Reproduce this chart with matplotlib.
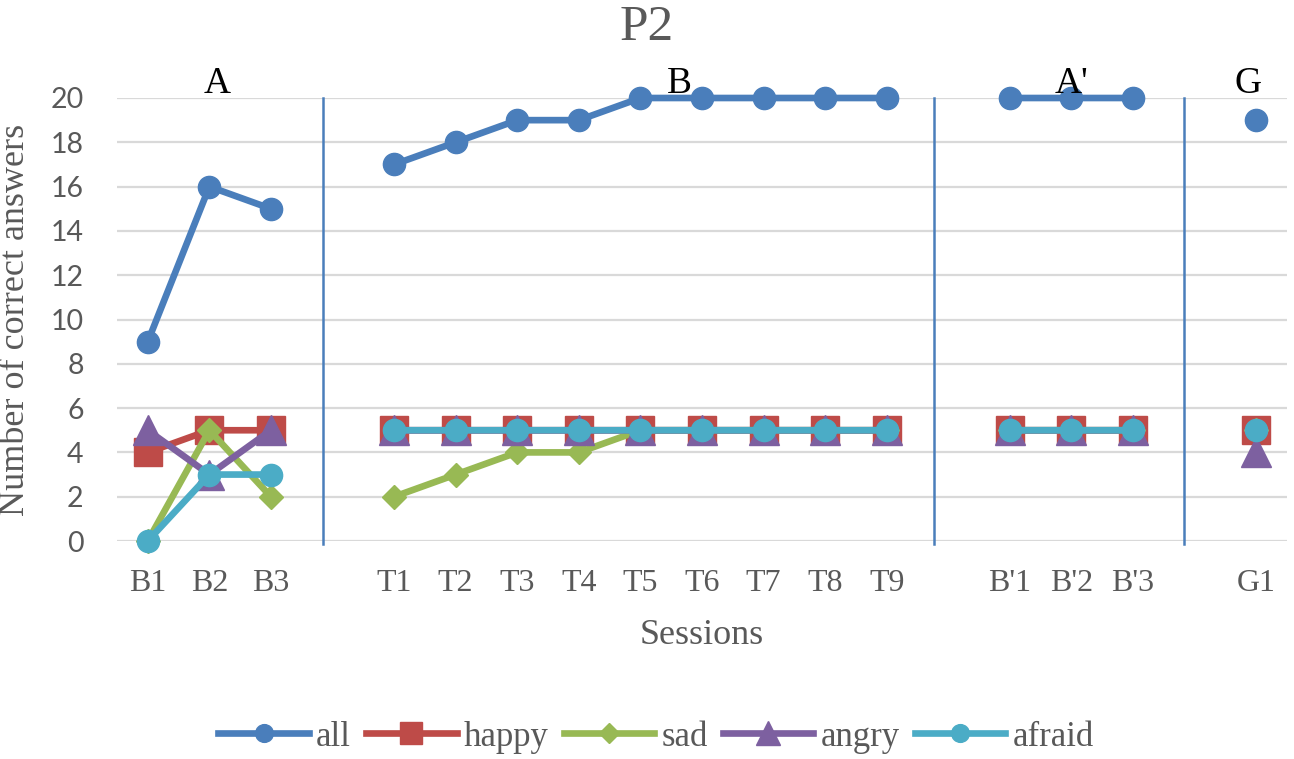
import numpy as np
import matplotlib
matplotlib.use("Agg")
import matplotlib.pyplot as plt

nan = np.nan
sessions = ["B1", "B2", "B3", "", "T1", "T2", "T3", "T4", "T5", "T6", "T7", "T8", "T9",
            "", "B'1", "B'2", "B'3", "", "G1"]
all_vals = [9, 16, 15, nan, 17, 18, 19, 19, 20, 20, 20, 20, 20, nan, 20, 20, 20, nan, 19]
happy = [4, 5, 5, nan, 5, 5, 5, 5, 5, 5, 5, 5, 5, nan, 5, 5, 5, nan, 5]
sad = [0, 5, 2, nan, 2, 3, 4, 4, 5, 5, 5, 5, 5, nan, 5, 5, 5, nan, 5]
angry = [5, 3, 5, nan, 5, 5, 5, 5, 5, 5, 5, 5, 5, nan, 5, 5, 5, nan, 4]
afraid = [0, 3, 3, nan, 5, 5, 5, 5, 5, 5, 5, 5, 5, nan, 5, 5, 5, nan, 5]
phase_labels = ["A", "B", "A'", "G"]
phase_label_x = [1.13, 8.64, 15.0, 17.87]
separators = [2.84, 12.76, 16.82]

serif = "Liberation Serif"
gray = "#595959"

fig = plt.figure(figsize=(12.94, 7.59), dpi=100)
ax = fig.add_axes([117/1294, 1-541/759, (1287-117)/1294, (541-98)/759])
x = np.arange(len(sessions))

ax.set_xlim(-0.5, len(sessions) - 0.5)
ax.set_ylim(0, 20)
ax.set_yticks(range(0, 21, 2))
ax.yaxis.grid(True, color="#D9D9D9", lw=1.6)
ax.set_axisbelow(True)
for s in ax.spines.values():
    s.set_visible(False)
ax.tick_params(length=0)
ax.set_xticks(x)
ax.set_xticklabels(sessions, fontfamily=serif, fontsize=23, color=gray)
for lab in ax.get_yticklabels():
    lab.set_fontfamily("Lato")
    lab.set_fontsize(20.5)
    lab.set_color(gray)
ax.tick_params(axis="x", pad=20)
ax.tick_params(axis="y", pad=24)

series = [
    ("all", all_vals, "#4A7EBB", "o", 16),
    ("happy", happy, "#BE4B48", "s", 20.5),
    ("sad", sad, "#98B954", "D", 12.5),
    ("angry", angry, "#7D60A0", "^", 21),
    ("afraid", afraid, "#4BACC6", "o", 16),
]
handles = []
for name, vals, col, mk, ms in series:
    h, = ax.plot(x, vals, color=col, lw=4.8, marker=mk, ms=ms, mec=col, mfc=col,
                 label=name, clip_on=False, zorder=3)
    handles.append(h)

for sx in separators:
    ax.plot([sx, sx], [-0.15, 20], color="#4A7EBB", lw=1.8, zorder=2, clip_on=False)

for lbl, lx in zip(phase_labels, phase_label_x):
    ax.text(lx, 19.85, lbl, ha="center", va="bottom", fontfamily=serif, fontsize=27,
            color="black")

ax.set_ylabel("Number of correct answers", fontfamily=serif, fontsize=26, color=gray)
ax.yaxis.set_label_coords(-0.0726, 0.5)
ax.set_xlabel("Sessions", fontfamily=serif, fontsize=26, color=gray, va="top")
ax.xaxis.set_label_coords(0.5, -0.175)
fig.text(0.5, 1 - 28/759, "P2", ha="center", va="center", fontfamily=serif, fontsize=37,
         color=gray)

leg = fig.legend(handles=handles, loc="center", bbox_to_anchor=(656/1294, 1 - 737/759),
                 ncol=5, frameon=False, handlelength=2.6, columnspacing=0.45,
                 handletextpad=0.2, prop={"family": serif, "size": 25}, markerscale=0.8)
for t in leg.get_texts():
    t.set_color(gray)

fig.savefig("out.png", dpi=100)
